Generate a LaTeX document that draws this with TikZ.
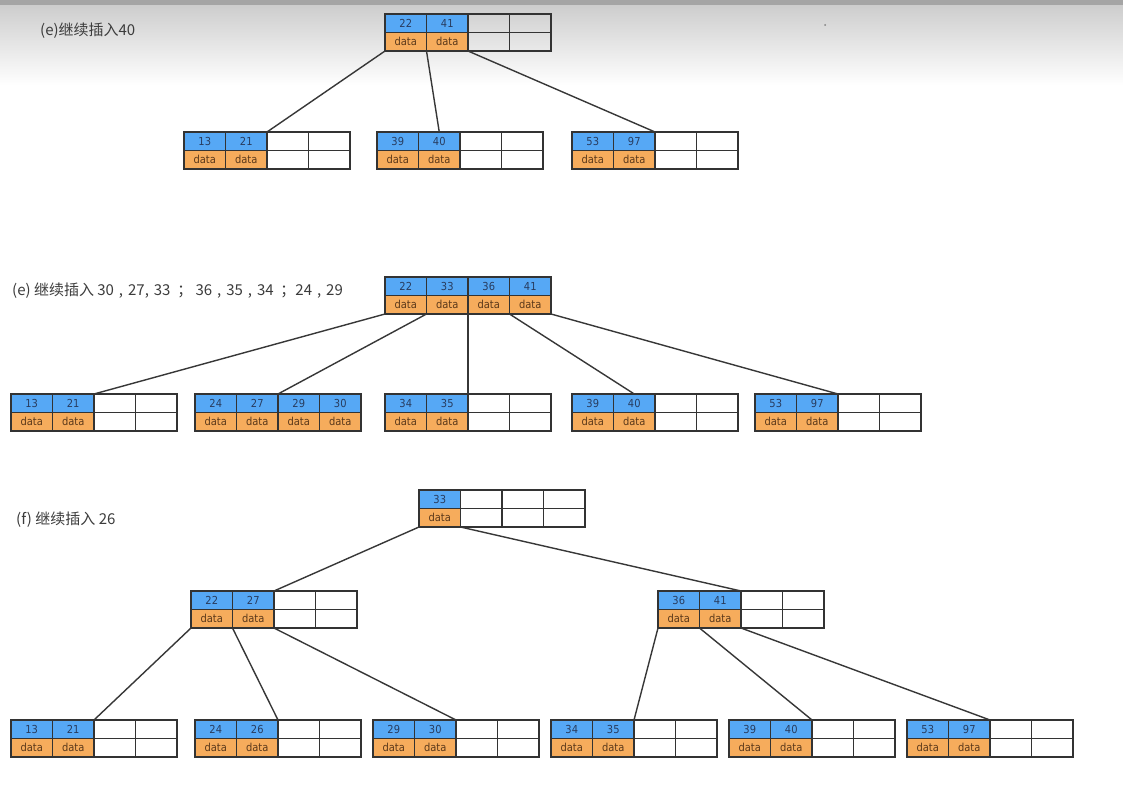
\documentclass[tikz,border=0pt]{standalone}
\usepackage{fontspec}
\setmainfont{DejaVu Sans}
\newfontfamily\cjk{Noto Sans CJK SC}
\newfontfamily\cellfont{DejaVu Sans Condensed}
\definecolor{keyblue}{RGB}{86,168,245}
\definecolor{dataorange}{RGB}{246,172,92}
\definecolor{bordergray}{RGB}{51,51,51}
\definecolor{keytext}{RGB}{40,60,95}
\definecolor{datatext}{RGB}{90,56,26}
\definecolor{labeltext}{RGB}{60,60,60}
\definecolor{edgegray}{RGB}{55,55,55}
\definecolor{bandgray}{RGB}{165,165,165}
\definecolor{shadegray}{RGB}{205,205,205}
\tikzset{
  cellbase/.style={draw=bordergray,line width=1.2pt,minimum width=41.5pt,minimum height=18.5pt,inner sep=0pt,outer sep=0pt,anchor=north west,font=\cellfont\fontsize{11}{12}\selectfont},
  kcell/.style={cellbase,fill=keyblue,text=keytext},
  dcell/.style={cellbase,fill=dataorange,text=datatext},
  ecell/.style={cellbase},
  edge/.style={draw=edgegray,line width=1.4pt},
  caption/.style={anchor=west,inner sep=0pt,text=labeltext,font=\cjk\fontsize{15}{17}\selectfont}
}
\newcommand\bcell[4]{%
  \if\relax\detokenize{#4}\relax
    \node[ecell] (#1k) at (#2,#3) {};
    \node[ecell] (#1d) at (#2,#3+18.5) {};
  \else
    \node[kcell] (#1k) at (#2,#3) {#4};
    \node[dcell] (#1d) at (#2,#3+18.5) {data};
  \fi}
\newcommand\bnode[7]{%
  \bcell{#1-1}{#2}{#3}{#4}%
  \bcell{#1-2}{#2+41.5}{#3}{#5}%
  \bcell{#1-3}{#2+83}{#3}{#6}%
  \bcell{#1-4}{#2+124.5}{#3}{#7}}
\newcommand\xsp{\hspace{1.6pt}}
\begin{document}
\begin{tikzpicture}[x=1pt,y=-1pt]
\useasboundingbox (0,0) rectangle (1123,794);
\fill[white] (0,0) rectangle (1123,794);
% top grey band
\shade[top color=shadegray,bottom color=white] (0,5) rectangle (1123,85);
\fill[bandgray] (0,0) rectangle (1123,5);
\fill[gray] (825,25) circle (1);

% ---------- tree (e) insert 40 ----------
\node[caption] (capA) at (40,31) {(e)继续插入40};
\bnode{A0}{385}{14}{22}{41}{}{}
\bnode{A1}{184}{132}{13}{21}{}{}
\bnode{A2}{377}{132}{39}{40}{}{}
\bnode{A3}{572}{132}{53}{97}{}{}
\draw[edge] (A0-1d.south west) -- (A1-2k.north east);
\draw[edge] (A0-2d.south west) -- (A2-2k.north);
\draw[edge] (A0-3d.south west) -- (A3-2k.north east);

% ---------- tree (e) insert 30,27,... ----------
\node[caption] (capB) at (12,291) {(e) 继续插入 30\ \xsp,\ \xsp27,\ \xsp33\ \ ；\ 36\ \xsp,\ \xsp35\ \xsp,\ \xsp34\ \ ；24\ \xsp,\ \xsp29};
\bnode{B0}{385}{277}{22}{33}{36}{41}
\bnode{B1}{11}{394}{13}{21}{}{}
\bnode{B2}{195}{394}{24}{27}{29}{30}
\bnode{B3}{385}{394}{34}{35}{}{}
\bnode{B4}{572}{394}{39}{40}{}{}
\bnode{B5}{755}{394}{53}{97}{}{}
\draw[edge] (B0-1d.south west) -- (B1-2k.north east);
\draw[edge] (B0-2d.south west) -- (B2-2k.north east);
\draw[edge] (B0-3d.south west) -- (B3-2k.north east);
\draw[edge] (B0-4d.south west) -- (B4-2k.north);
\draw[edge] (B0-4d.south east) -- (B5-2k.north east);

% ---------- tree (f) insert 26 ----------
\node[caption] (capC) at (16,520) {(f) 继续插入 26};
\bnode{C0}{419}{490}{33}{}{}{}
\bnode{C1}{191}{591}{22}{27}{}{}
\bnode{C2}{658}{591}{36}{41}{}{}
\bnode{L1}{11}{720}{13}{21}{}{}
\bnode{L2}{195}{720}{24}{26}{}{}
\bnode{L3}{373}{720}{29}{30}{}{}
\bnode{L4}{551}{720}{34}{35}{}{}
\bnode{L5}{729}{720}{39}{40}{}{}
\bnode{L6}{907}{720}{53}{97}{}{}
\draw[edge] (C0-1d.south west) -- (C1-2k.north east);
\draw[edge] (C0-1d.south east) -- (C2-2k.north east);
\draw[edge] (C1-1d.south west) -- (L1-2k.north east);
\draw[edge] (C1-2d.south west) -- (L2-2k.north east);
\draw[edge] (C1-2d.south east) -- (L3-2k.north east);
\draw[edge] (C2-1d.south west) -- (L4-2k.north east);
\draw[edge] (C2-2d.south west) -- (L5-2k.north east);
\draw[edge] (C2-2d.south east) -- (L6-2k.north east);
\end{tikzpicture}
\end{document}
